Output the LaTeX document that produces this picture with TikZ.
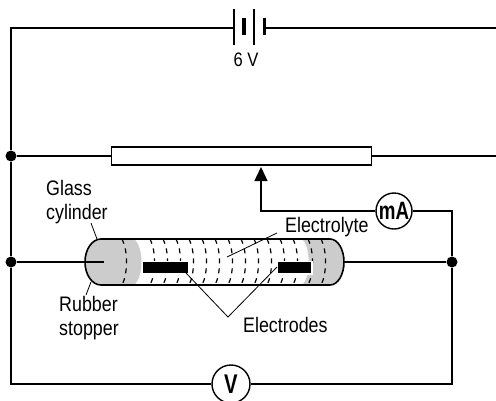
\documentclass[tikz,border=0pt]{standalone}
\usepackage{fontspec}
\setmainfont[FakeStretch=0.85]{Liberation Sans}
\newfontfamily\meterfont[FakeStretch=0.75]{Liberation Sans}
\usetikzlibrary{arrows.meta}

\tikzset{
  wire/.style={line width=1.4pt},
  dot/.style={circle, fill=black, inner sep=0pt, minimum size=11pt},
  meter/.style={circle, draw, line width=1.4pt, fill=white, minimum size=36pt,
    inner sep=0pt, font=\meterfont\bfseries\fontsize{25}{25}\selectfont},
  lbl/.style={font=\fontsize{21}{23.5}\selectfont, inner sep=0pt},
  leader/.style={line width=0.8pt},
  hatch/.style={line width=1.2pt, dash pattern=on 5pt off 5pt},
  stopper/.style={fill=black!20},
}

\begin{document}
\begin{tikzpicture}[x=1pt, y=-1pt]
\useasboundingbox (0,0) rectangle (496,400);

% ---- circuit corners and junctions
\coordinate (tl) at (11,28);
\coordinate (tr) at (496,28);
\coordinate (rr) at (496,156);
\coordinate (bl) at (11,384);
\coordinate (br) at (452,384);
\coordinate (cr) at (452,211);
\coordinate (sk) at (261,211);
\coordinate (tip) at (261,167);
\coordinate (tubeL) at (104,262);
\coordinate (tubeR) at (344,262);

\node[dot] (jA) at (11,156) {};
\node[dot] (jB) at (11,262) {};
\node[dot] (jC) at (452,262) {};

% ---- battery (two cells)
\coordinate (bL) at (234,28);
\coordinate (bR) at (264.3,28);
\draw[wire] (234,9) -- (234,45);
\draw[line width=3.5pt] (244,18) -- (244,35);
\draw[wire] (254,9) -- (254,45);
\draw[line width=3.5pt] (264.3,18) -- (264.3,35);
\node[lbl, font=\fontsize{19.5}{22}\selectfont, anchor=base] (emf) at (246,66.7) {6 V};

% ---- rheostat
\node[draw, line width=1.4pt, minimum width=260pt, minimum height=18pt,
      inner sep=0pt, anchor=west] (rh) at (111,156) {};

% ---- meters
\node[meter] (mA) at (394,211) {mA};
\node[meter, minimum size=38pt, font=\meterfont\bfseries\fontsize{27}{27}\selectfont] (V) at (231,384) {V};

% ---- wiring
\draw[wire] (bL) -- (tl) -- (jA) -- (jB) -- (bl) -- (V);
\draw[wire] (V) -- (br) -- (jC) -- (cr) -- (mA);
\draw[wire] (bR) -- (tr);
\draw[wire] (jA) -- (rh.west);
\draw[wire] (rh.east) -- (rr);
\draw[wire, -{Triangle[width=13pt,length=14pt]}] (mA) -- (sk) -- (tip);
\draw[wire] (tubeR) -- (jC);

% ---- glass tube with electrolyte
\def\tubepath{(101,239) -- (330,239) arc(-90:90:14 and 23) -- (101,285) arc(90:270:16 and 23) -- cycle}
\fill[white] \tubepath;
\begin{scope}
  \clip \tubepath;
  \foreach \x in {150,163,...,293}
    \draw[hatch] (\x,239) .. controls (\x+6,250) and (\x+6,274) .. (\x,285);
  % rubber stoppers
  \fill[stopper] (101,239) arc(270:90:16 and 23) -- (134,285)
      .. controls (144,277) and (144,247) .. (134,239) -- cycle;
  \fill[stopper] (302,239) .. controls (311,247) and (311,277) .. (302,285)
      -- (330,285) arc(90:-90:14 and 23) -- cycle;
  \foreach \x in {122,308,321}
    \draw[hatch] (\x,239) .. controls (\x+6,250) and (\x+6,274) .. (\x,285);
\end{scope}
% electrodes
\fill[white] (141.5,260.5) rectangle (189.5,274.5);
\fill[white] (276.5,260.5) rectangle (312.5,274.5);
\fill (143,262) rectangle (188,273);
\fill (278,262) rectangle (311,273);
\draw[line width=1.6pt] \tubepath;
\draw[wire] (jB) -- (tubeL);

% ---- labels and leaders
\node[lbl, anchor=base west, align=left] (glass) at (46,219) {Glass\\cylinder};
\node[lbl, anchor=base west] (electrolyte) at (285,232.7) {Electrolyte};
\node[lbl, anchor=base west, align=left] (rubber) at (59,335) {Rubber\\stopper};
\node[lbl, anchor=base west] (electrodes) at (243,332.3) {Electrodes};

\coordinate (gcA) at (91,223);
\coordinate (gcB) at (97,239);
\coordinate (rsA) at (91,282);
\coordinate (rsB) at (86,295);
\coordinate (elA) at (277,233);
\coordinate (elB) at (227,257);
\coordinate (edV) at (228,317);
\coordinate (edL) at (186,273);
\coordinate (edR) at (277,267);
\draw[leader] (gcA) -- (gcB);
\draw[leader] (rsA) -- (rsB);
\draw[leader] (elA) -- (elB);
\draw[leader] (edL) -- (edV) -- (edR);
\end{tikzpicture}
\end{document}
